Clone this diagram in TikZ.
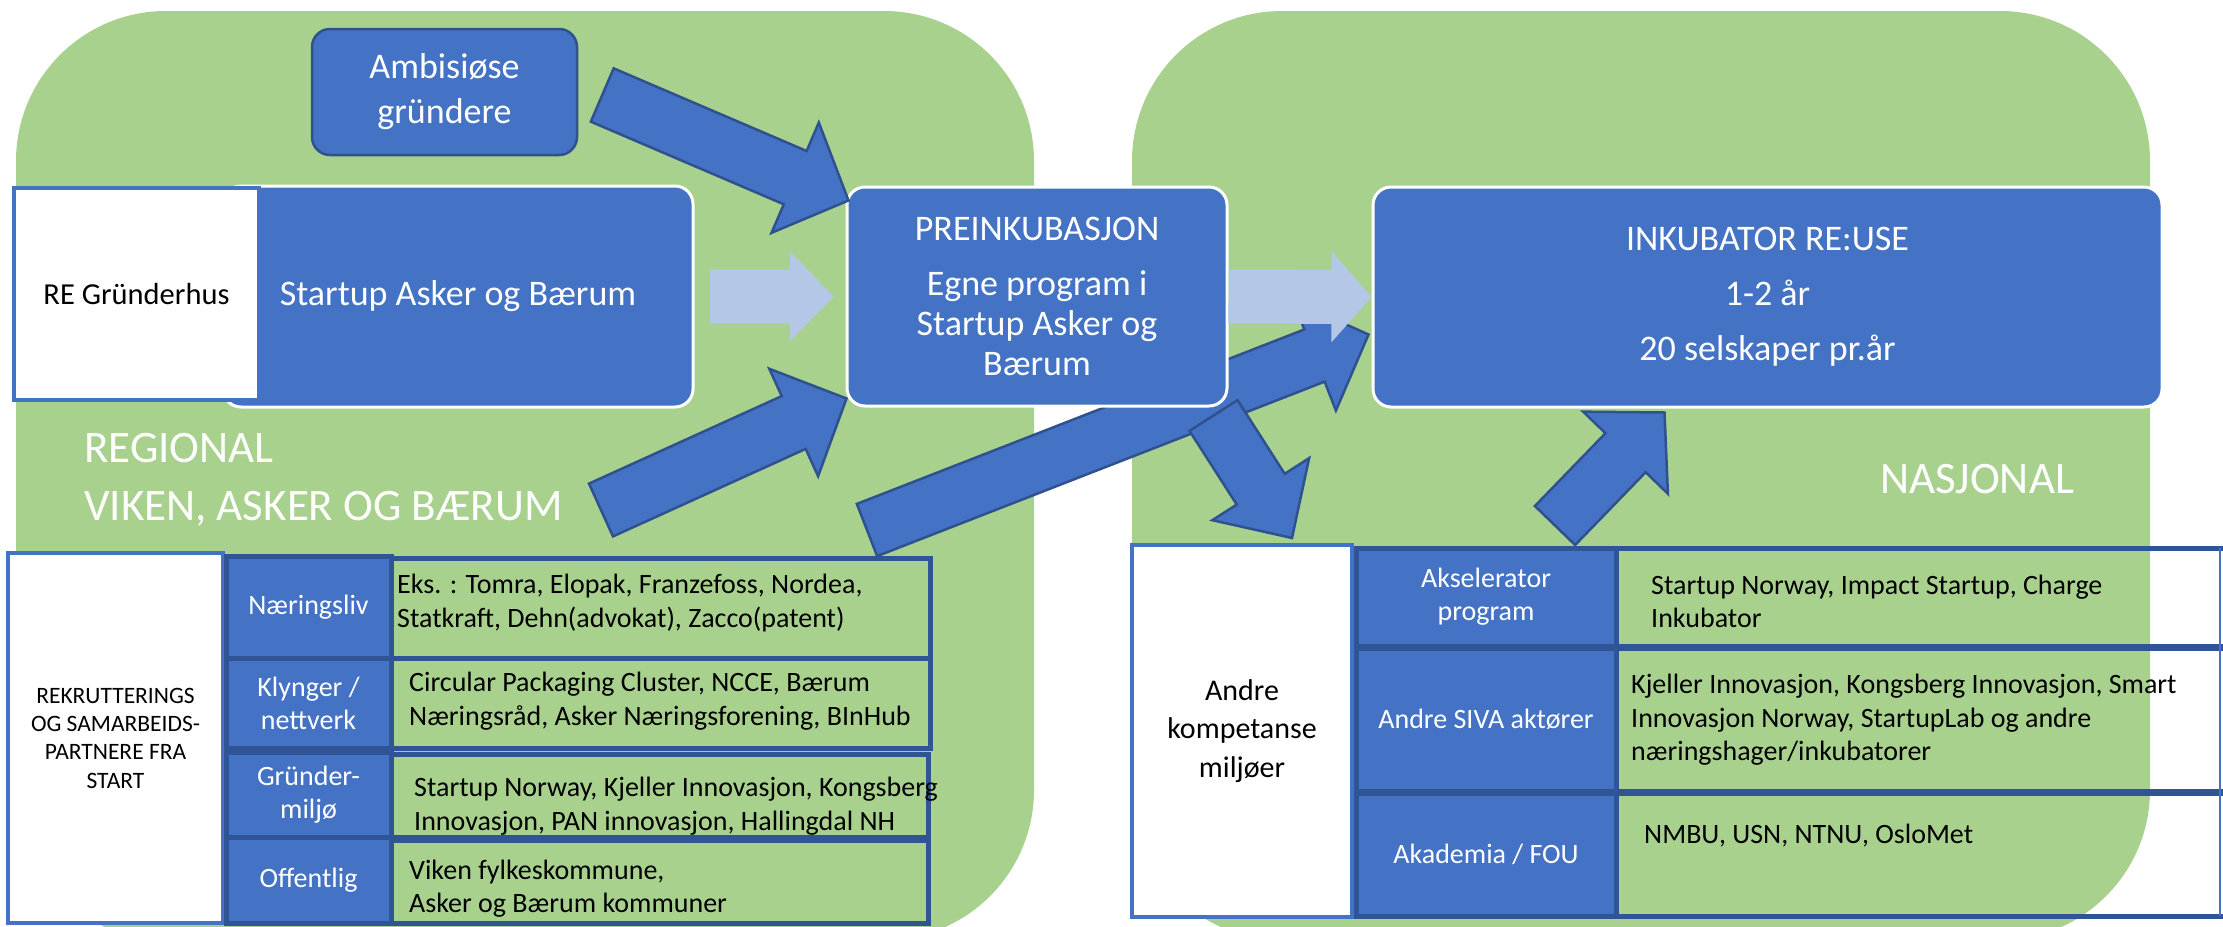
\documentclass[tikz,border=0pt]{standalone}
\usepackage{fontspec}
\setmainfont{Carlito}
\usetikzlibrary{calc,backgrounds}

\definecolor{regiongreen}{HTML}{A9D18E}
\definecolor{boxblue}{HTML}{4472C4}
\definecolor{edgeblue}{HTML}{2F528F}
\definecolor{gridblue}{HTML}{2F5597}
\definecolor{paleblue}{HTML}{B4C7E7}

% block arrow: style, tail, tip, body half width, head half width, head length
\newcommand{\blockarrow}[6]{%
  \coordinate (ba-h) at ($(#3)!#6!(#2)$);
  \path[#1] ($(#2)!#4!90:(#3)$) -- ($(ba-h)!#4!90:(#3)$) -- ($(ba-h)!#5!90:(#3)$) -- (#3)
    -- ($(ba-h)!#5!-90:(#3)$) -- ($(ba-h)!#4!-90:(#3)$) -- ($(#2)!#4!-90:(#3)$) -- cycle;
}

\begin{document}
\begin{tikzpicture}[x=1pt,y=-1pt,
  box/.style={rectangle,rounded corners=18pt,fill=boxblue,draw=white,line width=3pt,
    text=white,align=center,font=\fontsize{36}{40}\selectfont},
  whitebox/.style={rectangle,fill=white,draw=boxblue,line width=4pt,text=black,align=center},
  labelcell/.style={rectangle,fill=boxblue,draw=gridblue,line width=5pt,text=white,
    align=center,minimum width=165pt,font=\fontsize{28}{33}\selectfont},
  gridcell/.style={draw=gridblue,line width=5pt},
  celltext/.style={inner sep=0pt,align=left,text=black,font=\fontsize{28}{33.5}\selectfont},
  region/.style={inner sep=0pt,align=left,text=white,font=\fontsize{45}{58}\selectfont},
  fatarrow/.style={fill=boxblue,draw=edgeblue,line width=2.5pt},
  palearrow/.style={fill=paleblue}]

\useasboundingbox (0,0) rectangle (2223,926);

% top row of boxes
\node[box, draw=edgeblue, line width=2.5pt, minimum width=265pt, minimum height=126pt,
  font=\fontsize{36}{45}\selectfont] (amb) at (444.5,92) {Ambisiøse\\gründere};
\node[box, minimum width=470pt, minimum height=221pt] (startup) at (458,296.5) {Startup Asker og Bærum};
\node[whitebox, minimum width=245pt, minimum height=212pt,
  font=\fontsize{30.5}{36}\selectfont] (rehus) at (136.5,294) {RE Gründerhus};
\node[box, minimum width=380pt, minimum height=219pt] (pre) at (1037,296.5)
  {PREINKUBASJON\\[15pt]Egne program i\\Startup Asker og\\Bærum};
\node[box, minimum width=789pt, minimum height=220pt, font=\fontsize{36}{55}\selectfont]
  (ink) at (1767.5,297) {INKUBATOR RE:USE\\1-2 år\\20 selskaper pr.år};

% region labels
\node[region, anchor=west] (regional) at (84,480) {REGIONAL\\VIKEN, ASKER OG BÆRUM};
\node[region, anchor=base west] (nasjonal) at (1880,493) {NASJONAL};

% left table
\node[whitebox, minimum width=215pt, minimum height=370pt,
  font=\fontsize{23.5}{28.3}\selectfont] (rekrut) at (115.5,738)
  {REKRUTTERINGS\\OG SAMARBEIDS-\\PARTNERE FRA\\START};
\draw[gridcell] (391,558) rectangle (930,658);
\draw[gridcell] (391,658) rectangle (930,748);
\draw[gridcell] (391,754) rectangle (928,837);
\draw[gridcell] (391,840) rectangle (928,923);
\node[labelcell, minimum height=102pt] (naer) at (308.5,607) {Næringsliv};
\node[labelcell, minimum height=90pt] (klynger) at (308.5,703) {Klynger /\\nettverk};
\node[labelcell, minimum height=85pt] (grunder) at (308.5,794.5) {Gründer-\\miljø};
\node[labelcell, minimum height=86pt] (offentlig) at (308.5,880) {Offentlig};
\node[celltext, anchor=west] (naer-txt) at (397,603)
  {Eks. : Tomra, Elopak, Franzefoss, Nordea,\\Statkraft, Dehn(advokat), Zacco(patent)};
\node[celltext, anchor=west] (klynger-txt) at (409,701)
  {Circular Packaging Cluster, NCCE, Bærum\\Næringsråd, Asker Næringsforening, BInHub};
\node[celltext, anchor=west] (grunder-txt) at (414,806)
  {Startup Norway, Kjeller Innovasjon, Kongsberg\\Innovasjon, PAN innovasjon, Hallingdal NH};
\node[celltext, anchor=west] (offentlig-txt) at (409,888.5)
  {Viken fylkeskommune,\\Asker og Bærum kommuner};

% right table
\node[whitebox, minimum width=220pt, minimum height=372pt,
  font=\fontsize{30}{38.5}\selectfont] (andre) at (1242,731) {Andre\\kompetanse\\miljøer};
\draw[gridcell] (1616,548) rectangle (2230,646);
\draw[gridcell] (1616,648) rectangle (2230,791);
\draw[gridcell] (1616,793) rectangle (2230,916);
\draw[boxblue, line width=1.5pt] (2220,548) -- (2220,916);
\node[labelcell, minimum width=260pt, minimum height=98pt] (aks) at (1486,597) {Akselerator\\program};
\node[labelcell, minimum width=260pt, minimum height=143pt] (siva) at (1486,719.5) {Andre SIVA aktører};
\node[labelcell, minimum width=260pt, minimum height=123pt] (akad) at (1486,854.5) {Akademia / FOU};
\node[celltext, anchor=west] (aks-txt) at (1651,601.5)
  {Startup Norway, Impact Startup, Charge\\Inkubator};
\node[celltext, anchor=west] (siva-txt) at (1631,720)
  {Kjeller Innovasjon, Kongsberg Innovasjon, Smart\\Innovasjon Norway, StartupLab og andre\\næringshager/inkubatorer};
\node[celltext, anchor=base west] (akad-txt) at (1644,843) {NMBU, USN, NTNU, OsloMet};

% arrow ends
\coordinate (amb-tail) at ($(amb.east)+(24,3)$);
\coordinate (amb-tip) at ($(pre.north west)+(3,15)$);
\coordinate (viken-tail) at (601,510);
\coordinate (viken-tip) at ($(pre.south west)+(1,-9)$);
\coordinate (long-tail) at (867,530);
\coordinate (long-tip) at ($(ink.south west)+(-3,-74)$);
\coordinate (down-tail) at ($(pre.south east)+(-15,8)$);
\coordinate (down-tip) at ($(andre.north east)+(-62,-5)$);
\coordinate (up-tail) at ($(aks.north)+(69,-20)$);
\coordinate (up-tip) at ($(ink.south)+(-103,4)$);
\coordinate (pale1-tail) at ($(startup.east)+(15,0)$);
\coordinate (pale1-tip) at ($(pre.west)+(-12,0)$);

\blockarrow{fatarrow}{amb-tail}{amb-tip}{29pt}{60pt}{58pt}
\blockarrow{fatarrow}{viken-tail}{viken-tip}{29pt}{59pt}{58pt}
\blockarrow{fatarrow}{up-tail}{up-tip}{28pt}{59pt}{56pt}
\blockarrow{palearrow}{pale1-tail}{pale1-tip}{27pt}{45.5pt}{44pt}
\blockarrow{palearrow}{pre.east}{ink.west}{27pt}{45.5pt}{40pt}

\begin{scope}[on background layer]
  \fill[regiongreen, rounded corners=150pt] (16,11) rectangle (1034,940);
  \fill[regiongreen, rounded corners=150pt] (1132,11) rectangle (2150,940);
  \blockarrow{fatarrow}{long-tail}{long-tip}{28pt}{59pt}{58pt}
  \blockarrow{fatarrow}{down-tail}{down-tip}{28.5pt}{57.5pt}{58pt}
\end{scope}
\end{tikzpicture}
\end{document}
